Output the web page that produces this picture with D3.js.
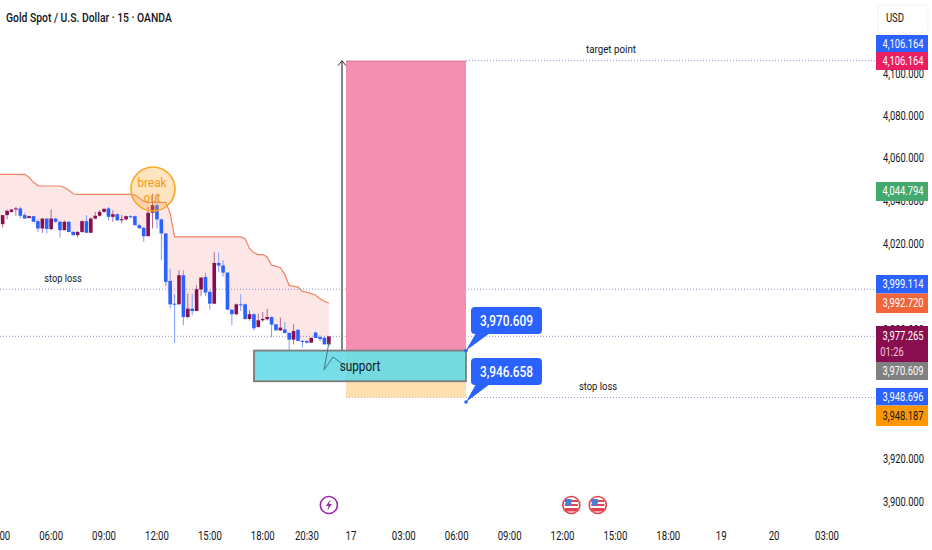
<!DOCTYPE html>
<html><head><meta charset="utf-8">
<script src="https://d3js.org/d3.v7.min.js"></script>
<style>html,body{margin:0;padding:0;background:#fff}svg{display:block}text{font-family:Roboto,"Open Sans",sans-serif}</style>
</head><body><svg id="c" width="932" height="550"></svg>
<script>
// OHLC per 15-minute bar
const opens=[4029,4029.3,4033.5,4035,4036.1,4036.6,4033.5,4032.1,4033,4030.7,4027.3,4031.9,4027,4031.9,4030.4,4026.5,4030.4,4025.7,4024.2,4025.7,4030.7,4025.3,4031.9,4033.2,4035,4036.6,4032.7,4033.9,4031.1,4031.5,4033,4033,4028.8,4027.6,4023.7,4034.6,4038.1,4031.5,4025,4003,3992.4,3992.1,4005.6,3986.2,3990.1,3989,3999,4004.8,3997.9,3992.4,4011.3,4010.1,4006.8,3989.6,3987.5,3992.1,3992.1,3985.3,3987.5,3981.6,3984.7,3985.2,3986.2,3982.8,3980,3980.5,3978.8,3975.7,3980.3,3975.1,3975.1,3974.3,3979,3976.9,3976.6,3973.5];
const highs=[4032,4033.5,4036.1,4036.2,4037.3,4037.3,4034.6,4033.2,4033.2,4031.5,4031.9,4032,4036.1,4032.2,4031,4031,4030.7,4026,4026,4031,4033.5,4032.5,4035,4035.8,4036.6,4037.3,4035.8,4034.5,4033.5,4033.2,4033.5,4033.2,4029.5,4028,4037.3,4043.5,4043.5,4032,4025,4008.7,3996.8,4007.9,4007.9,3997,3997,4001,4004.5,4006.7,3998.6,4016.4,4016.1,4012.6,4007,3990,3992.5,3996.8,3992.5,3989.3,3988,3987.8,3988.5,3990,3986.5,3983,3985.9,3983.9,3979.2,3982.8,3980.5,3975.5,3975.4,3976.8,3979.5,3977.7,3977,3977.3];
const lows=[4027,4027.7,4031.6,4034.6,4033.2,4031.9,4031.9,4032.1,4030.4,4025.7,4025.3,4025,4026.5,4030,4023.1,4026.5,4025.7,4024,4023.1,4025.3,4025.3,4025.3,4031.5,4032.8,4034.6,4031,4030.4,4030.7,4029.6,4031,4032,4028.8,4027.3,4021.1,4023.7,4027.3,4027.3,4012.5,4000.4,3990.1,3974.1,3992.1,3982.4,3985.5,3987,3989,3995.8,3996,3989.6,3992.4,4007,4005,3989.6,3982.4,3987,3989,3985,3984.5,3979.9,3981.3,3984,3984.6,3976.9,3980,3979.8,3978.6,3970,3973.5,3975,3972,3973.8,3974.3,3976.4,3975,3973.5,3973];
const closes=[4029.3,4033.5,4035.5,4036.1,4036.6,4033.2,4031.9,4033,4030.4,4027.3,4031.9,4027.1,4031.9,4030.4,4026.5,4030.4,4025.7,4024.2,4025.7,4030.7,4025.3,4031.9,4033.2,4035,4036.4,4032.7,4033.9,4031.1,4031.6,4033,4032.7,4028.8,4027.4,4023.7,4034.6,4038.1,4031.5,4025,4002.5,3992.1,3992.1,4005.6,3986.2,3990.1,3989,3999.1,4004.5,3997.6,3992.4,4011.3,4010.1,4006.8,3989.6,3987.5,3992.1,3991.8,3985.3,3987.5,3981,3984.7,3985.3,3986.2,3982.7,3980,3981.3,3978.8,3975.7,3979.7,3975.1,3974.9,3974.3,3976.5,3976.5,3976,3973.5,3977.2];
// trailing-stop line per bar
const trail=[4052.4,4052.4,4052.4,4052.4,4052.4,4052.4,4052.4,4051,4048.7,4047.2,4047,4047,4047,4047,4047,4046.3,4045,4043.4,4043.1,4043.1,4043.1,4043.1,4043.1,4043.1,4043.1,4043.1,4043.1,4043.1,4043.1,4043.1,4043.1,4042.8,4041.5,4039.8,4039.4,4039.4,4039.4,4039.4,4039.4,4034.4,4023.4,4023.4,4023.4,4023.4,4023.4,4023.4,4023.4,4023.4,4023.4,4023.4,4023.4,4023.4,4023.4,4023.4,4023.4,4023.4,4022.6,4018,4016,4015.2,4015.2,4014.1,4010.2,4009.8,4009.1,4006,4000.8,4000.6,4000.1,3998.1,3997.7,3997.1,3996.3,3994.7,3993.5,3992.7];
// axes
const priceTicks=[3900,3920,3980,4020,4040,4060,4080,4100];
const timeBars=[0,12,24,36,48,60,70,80,92,104,116,128,140,152,164,176,188];
const timeLabels=["00:00","06:00","09:00","12:00","15:00","18:00","20:30","17","03:00","06:00","09:00","12:00","15:00","18:00","19","20","03:00"];
// levels
const targetPrice=4106.164, entryPrice=3970.609, stopPrice=3948.696, lastPrice=3977.265, leftStop=3999.114, zoneLow=3956.3, pointTwo=3946.658;
const axisLabels=["4,106.164","4,106.164","4,044.794","3,999.114","3,992.720","3,977.265","3,970.609","3,948.696","3,948.187"];
const flagBars=[130,136], boltBar=75;

const svg=d3.select("#c");
const x=d3.scaleLinear().domain([0,188]).range([-1.75,827]);
const y=d3.scaleLinear().domain([3900,3977.265,4060,4106.164]).range([502,336.3,158,60.7]);
const idx=d3.range(opens.length);
const BLUE="#2962ff",MAROON="#880e4f",plotR=875;

function txt(g,s,px,py,o={}){
  const k=o.k||0.84;
  return g.append("text").attr("transform",`translate(${px},${py}) scale(${k},1)`)
    .attr("text-anchor",o.a||"middle").attr("dominant-baseline","central")
    .attr("font-size",o.s||12).attr("font-weight",o.w||400).attr("fill",o.c||"#131722").text(s);
}
// cloud
svg.append("path").datum(idx).attr("fill","#fde6e6")
  .attr("d",d3.area().x(i=>x(i)).y0(i=>y(closes[i])).y1(i=>y(trail[i])));
svg.append("path").datum(idx).attr("fill","none").attr("stroke","#f0825f").attr("stroke-width",1.2)
  .attr("d",d3.line().x(i=>x(i)).y(i=>y(trail[i])));
// dotted levels
function level(v,x0){svg.append("line").attr("x1",x0).attr("x2",plotR).attr("y1",y(v)).attr("y2",y(v))
  .attr("stroke","#8f8fd6").attr("stroke-width",1).attr("stroke-dasharray","1 2");}
level(targetPrice,466);level(leftStop,0);level(lastPrice,0);level(stopPrice,346);
// candles
const cg=svg.append("g");
idx.forEach(i=>{
  const col=closes[i]>opens[i]?MAROON:BLUE, cx=x(i);
  cg.append("line").attr("x1",cx).attr("x2",cx).attr("y1",y(highs[i])).attr("y2",y(lows[i]))
    .attr("stroke",col==BLUE?"#7d9dff":"#b06a90").attr("stroke-width",1);
  const t=y(Math.max(opens[i],closes[i])),b=y(Math.min(opens[i],closes[i]));
  cg.append("rect").attr("x",cx-1.8).attr("width",3.6).attr("y",t).attr("height",Math.max(1,b-t)).attr("fill",col);
});
// risk / reward boxes
svg.append("rect").attr("x",346).attr("width",120).attr("y",y(targetPrice)).attr("height",y(entryPrice)-y(targetPrice)).attr("fill","#f48fb1");
svg.append("rect").attr("x",346).attr("width",120).attr("y",y(targetPrice)).attr("height",1.2).attr("fill","#e07fa5");
svg.append("rect").attr("x",346).attr("width",120).attr("y",y(entryPrice)).attr("height",y(stopPrice)-y(entryPrice)).attr("fill","#ffdfb0");
// arrow
svg.append("line").attr("x1",342).attr("x2",342).attr("y1",y(targetPrice)).attr("y2",y(entryPrice)).attr("stroke","#7a7a7a").attr("stroke-width",1.8);
svg.append("path").attr("d",`M338,${y(targetPrice)+5}L342,${y(targetPrice)}L346,${y(targetPrice)+5}`).attr("fill","none").attr("stroke","#333").attr("stroke-width",1);
// support zone
svg.append("rect").attr("x",254).attr("width",212).attr("y",y(entryPrice)).attr("height",y(zoneLow)-y(entryPrice))
  .attr("fill","#62d9e6").attr("fill-opacity",.88).attr("stroke","#7c7c7c").attr("stroke-width",1.8);
svg.append("path").attr("d","M329,342L324,370L333,357L341,363").attr("fill","none").attr("stroke","#3f7a80").attr("stroke-width",1);
txt(svg,"support",360,366,{s:14});
// break out circle
svg.append("circle").attr("cx",153).attr("cy",189).attr("r",22).attr("fill","#ffa726").attr("fill-opacity",.3).attr("stroke","#f9a825").attr("stroke-width",1.6);
txt(svg,"break",152,183,{s:13,c:"#f59a1b",k:.9});
txt(svg,"out",152,198,{s:13,c:"#f59a1b",k:.9});
// notes
txt(svg,"target point",611,49,{s:11.5,k:.85});
txt(svg,"stop loss",598,386,{s:11.5,k:.82});
txt(svg,"stop loss",63,278,{s:11.5,k:.8});
// callouts
function callout(v,top,label,tipY){
  const g=svg.append("g");
  g.append("path").attr("d",`M476,${top+26}L466,${tipY}L490,${top+26}Z`).attr("fill",BLUE);
  g.append("rect").attr("x",471).attr("y",top).attr("width",71).attr("height",27).attr("rx",4).attr("fill",BLUE);
  g.append("circle").attr("cx",466).attr("cy",tipY).attr("r",1.8).attr("fill",BLUE);
  txt(g,label,506.5,top+14,{s:14.5,c:"#fff",w:500,k:.82});
}
callout(entryPrice,307,"3,970.609",y(entryPrice));
callout(pointTwo,358,"3,946.658",y(pointTwo));
// price axis
priceTicks.forEach(v=>txt(svg,d3.format(",.3f")(v),903.5,y(v),{s:12,k:.78}));
// price labels
const stack=[[35,17.5,BLUE,"#fff"],[52,18,"#e91e63","#fff"],[182,19,"#43a96e","#fff"],[275,18.5,BLUE,"#fff"],[293.5,19.5,"#f1643c","#fff"],[326,36,MAROON,"#fff"],[362,18,"#808080","#fff"],[388,17.5,BLUE,"#fff"],[405.5,20.5,"#ff9800","#131722"]];
stack.forEach((s,i)=>{
  svg.append("rect").attr("x",876).attr("y",s[0]).attr("width",52).attr("height",s[1]).attr("fill",s[2]);
  const cy=i==5?s[0]+10:s[0]+s[1]/2;
  txt(svg,axisLabels[i],903,cy,{s:12,c:s[3],k:.78});
  if(i==5)txt(svg,"01:26",892,s[0]+26,{s:12,c:"#f5c6dc",k:.78});
});
// USD
svg.append("rect").attr("x",878).attr("y",5).attr("width",50).attr("height",28).attr("rx",3).attr("fill","#fff").attr("stroke","#f0f3fa");
txt(svg,"USD",895,18,{s:12,k:.8});
// time axis
timeBars.forEach((b,i)=>txt(svg,timeLabels[i],x(b),536,{s:12,k:.8}));
// events
function bolt(b){
  const g=svg.append("g").attr("transform",`translate(${x(b)},505)`);
  g.append("circle").attr("r",8.5).attr("fill","#fff").attr("stroke","#9c27b0").attr("stroke-width",1.6);
  g.append("path").attr("d","M1.5,-5.5L-3,1L-.3,1L-1.5,5.5L3,-1L.3,-1Z").attr("fill","#9c27b0");
}
function flag(b){
  const g=svg.append("g").attr("transform",`translate(${x(b)},505)`);
  g.append("circle").attr("r",8.5).attr("fill","#fff").attr("stroke","#e0454f").attr("stroke-width",1.6);
  [-5,-1,3].forEach(d=>g.append("rect").attr("x",-6.5).attr("y",d).attr("width",13).attr("height",2).attr("fill","#e0454f"));
  g.append("rect").attr("x",-6).attr("y",-6).attr("width",6).attr("height",6.5).attr("fill","#4a7fd8");
  g.append("rect").attr("x",-5.5).attr("y",4.5).attr("width",11).attr("height",2).attr("fill","#e0454f");
}
bolt(boltBar);flagBars.forEach(flag);
// title
txt(svg,"Gold Spot / U.S. Dollar · 15 · OANDA",6,18,{a:"start",s:12.5,w:500,k:.83});
</script></body></html>
